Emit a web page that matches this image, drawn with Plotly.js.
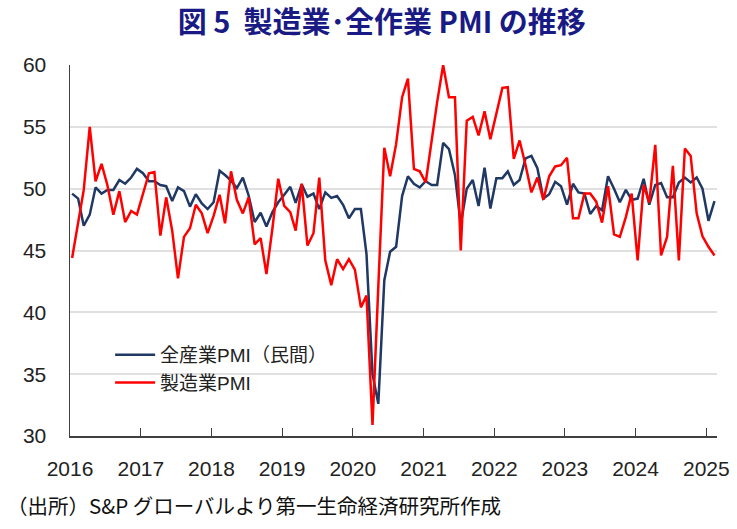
<!DOCTYPE html>
<html>
<head>
<meta charset="utf-8">
<script src="https://cdn.plot.ly/plotly-3.0.1.min.js"></script>
<style>html,body{margin:0;padding:0;background:#fff;}#chart{width:737px;height:529px;}</style>
</head>
<body>
<div id="chart"></div>
<script>
// Monthly values, Jan 2016 – Feb 2025
const startYear = 2016;
const allIndustryPMI = [
  49.6, 49.2, 47.0, 47.9, 50.1, 49.6, 49.9, 49.9, 50.7, 50.4, 50.9, 51.6,   // 2016
  51.25, 50.6, 50.6, 50.3, 50.2, 49.0, 50.1, 49.8, 48.55, 49.55, 48.8, 48.35, // 2017
  48.9, 51.45, 51.1, 50.65, 50.05, 50.9, 49.45, 47.3, 48.05, 46.95, 48.1, 48.9, // 2018
  49.5, 50.15, 48.85, 50.35, 49.35, 49.6, 48.35, 49.7, 49.25, 49.4, 48.7, 47.6, // 2019
  48.35, 48.35, 44.7, 35.0, 32.6, 42.6, 44.9, 45.3, 49.4, 51.0, 50.4, 50.1,   // 2020
  50.6, 50.3, 50.3, 53.7, 53.2, 51.1, 47.1, 50.0, 50.7, 48.6, 51.7, 48.4,     // 2021
  50.85, 50.85, 51.4, 50.3, 50.7, 52.45, 52.65, 51.65, 49.2, 49.55, 50.55, 50.2, // 2022
  48.7, 50.4, 49.7, 49.6, 47.95, 48.6, 48.25, 51.0, 50.0, 48.9, 49.9, 49.1,   // 2023
  49.2, 50.8, 48.7, 50.3, 50.45, 49.3, 49.3, 50.5, 50.9, 50.5, 50.9, 50.0,    // 2024
  47.4, 49.0                                                                   // 2025
];
const manufacturingPMI = [
  44.4, 47.2, 49.9, 55.0, 50.6, 52.0, 50.3, 47.9, 49.8, 47.3, 48.2, 47.9,     // 2016
  49.6, 51.25, 51.35, 46.2, 49.3, 46.6, 42.75, 46.1, 46.8, 48.7, 48.0, 46.4,  // 2017
  47.8, 49.5, 47.2, 51.4, 49.1, 48.0, 49.3, 45.5, 46.0, 43.1, 46.8, 50.8,     // 2018
  48.6, 48.1, 46.6, 50.4, 45.4, 46.4, 50.9, 44.2, 42.2, 44.3, 43.5, 44.3,     // 2019
  43.45, 40.4, 41.35, 30.9, 42.1, 53.3, 51.0, 53.6, 57.4, 58.9, 51.6, 51.4,   // 2020
  50.5, 54.1, 57.0, 60.0, 57.4, 57.4, 45.0, 55.5, 55.8, 54.3, 56.25, 54.0,    // 2021
  56.1, 58.15, 58.2, 52.4, 53.9, 51.9, 49.7, 50.9, 49.1, 51.0, 51.8, 51.9,    // 2022
  52.5, 47.6, 47.6, 49.6, 49.6, 48.95, 47.25, 50.2, 46.3, 46.1, 47.7, 49.6,   // 2023
  44.2, 50.3, 48.85, 53.55, 44.6, 46.1, 51.85, 44.2, 53.25, 52.65, 48.0, 46.15, // 2024
  45.3, 44.6                                                                   // 2025
];
const yearLabels = ['2016','2017','2018','2019','2020','2021','2022','2023','2024','2025'];
const seriesNames = ['全産業PMI（民間）', '製造業PMI'];

const months = allIndustryPMI.map((_, i) => {
  const y = startYear + Math.floor(i / 12);
  const m = (i % 12) + 1;
  return y + '-' + String(m).padStart(2, '0') + '-12';
});
const yearTicks = yearLabels.map(y => y + '-01-01');

const fontFam = 'Liberation Sans, Arial, Noto Sans CJK JP, sans-serif';

const data = [
  {x: months, y: allIndustryPMI, name: seriesNames[0], type: 'scatter', mode: 'lines',
   line: {color: '#1f3864', width: 2.5}},
  {x: months, y: manufacturingPMI, name: seriesNames[1], type: 'scatter', mode: 'lines',
   line: {color: '#ff0000', width: 2.5}}
];

const layout = {
  width: 737, height: 529,
  margin: {l: 70, r: 20, t: 65, b: 93},
  paper_bgcolor: '#ffffff', plot_bgcolor: '#ffffff',
  font: {family: fontFam, color: '#222222', size: 19},
  title: {text: '<b>図 5  製造業･全作業 PMI の推移</b>', xref: 'container', x: 0.518, xanchor: 'center',
          yref: 'container', y: 0.956, yanchor: 'middle',
          font: {family: 'Noto Sans CJK JP, Liberation Sans, sans-serif', size: 29, color: '#1a1a85'}},
  xaxis: {type: 'date', range: ['2016-01-01', '2025-02-25'],
          tickmode: 'array', tickvals: yearTicks, ticktext: yearLabels,
          ticks: 'inside', ticklen: 8, tickwidth: 1, tickcolor: '#404040',
          showline: true, linecolor: '#404040', linewidth: 1.5,
          showgrid: false, zeroline: false,
          tickfont: {size: 21, color: '#222222'}, ticklabelstandoff: 13},
  yaxis: {range: [30, 60], tickvals: [30, 35, 40, 45, 50, 55, 60],
          showline: true, linecolor: '#404040', linewidth: 1.5,
          showgrid: true, gridcolor: '#e0e0e0', gridwidth: 2,
          zeroline: false, ticks: '',
          tickfont: {size: 21, color: '#222222'}, ticklabelstandoff: 18},
  legend: {x: 0.062, y: 0.27, xanchor: 'left', yanchor: 'top', bgcolor: 'rgba(0,0,0,0)',
           font: {size: 19, color: '#222222', family: fontFam}, itemwidth: 40},
  showlegend: true,
  annotations: [{text: '（出所）S&P グローバルより第一生命経済研究所作成', xref: 'paper', yref: 'paper',
                 x: -0.1, y: -0.186, xanchor: 'left', yanchor: 'middle', showarrow: false,
                 font: {size: 20.5, color: '#111111', family: 'Noto Sans CJK JP, sans-serif'}}]
};

Plotly.newPlot('chart', data, layout, {displayModeBar: false, staticPlot: true});
</script>
</body>
</html>
